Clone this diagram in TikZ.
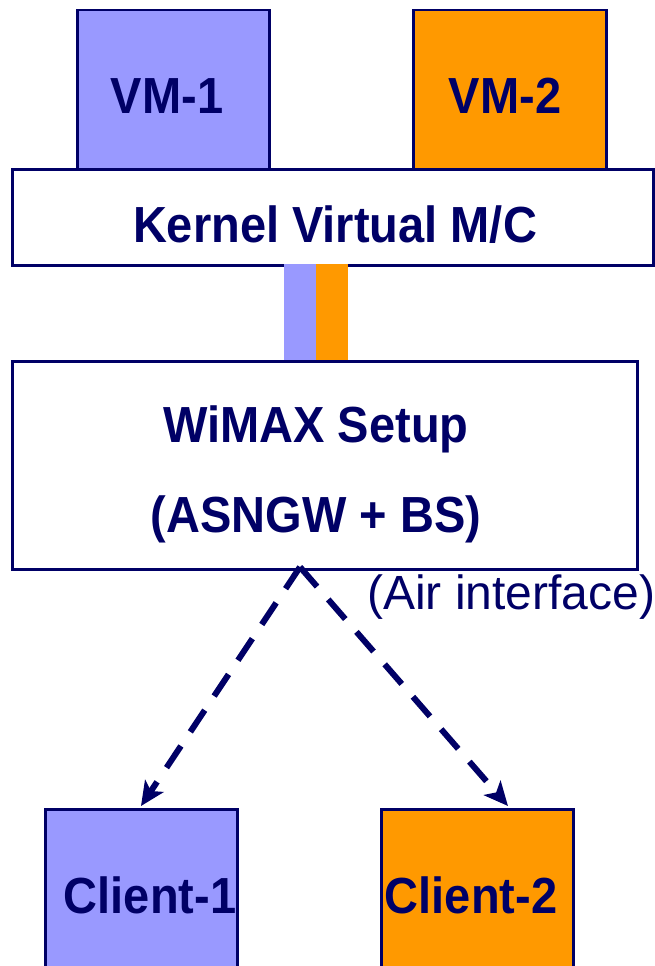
\documentclass[tikz,border=0pt]{standalone}
\usepackage{fontspec}
\setmainfont{Liberation Sans}
\usetikzlibrary{arrows.meta}
\definecolor{navy}{HTML}{000066}
\definecolor{vmblue}{HTML}{9999FF}
\definecolor{vmorange}{HTML}{FF9900}
\tikzset{
  box/.style={draw=navy, line width=2.5pt, rectangle, inner sep=0pt, anchor=north west},
  bar/.style={rectangle, inner sep=0pt, anchor=north west, minimum width=32pt, minimum height=96pt},
  lbl/.style={text=navy, font=\fontsize{47}{56}\selectfont\bfseries, inner sep=0pt, yscale=1.08},
  note/.style={text=navy, font=\fontsize{48}{56}\selectfont, inner sep=0pt},
  radio/.style={draw=navy, line width=6pt, dash pattern=on 26pt off 17pt,
    -{Stealth[length=24pt, width=22pt, inset=6pt]}}
}
\begin{document}
\begin{tikzpicture}[x=1pt, y=-1pt]
  \useasboundingbox (0,0) rectangle (655,966);
  \fill[white] (0,0) rectangle (655,966);

  % virtual machines
  \node[box, fill=vmblue, minimum width=192pt, minimum height=159pt] (vm1) at (76,9) {};
  \node[box, fill=vmorange, minimum width=193pt, minimum height=159pt] (vm2) at (412,9) {};
  \node[lbl] (vm1t) at (167,96) {VM-1};
  \node[lbl] (vm2t) at (505,96) {VM-2};

  % kernel layer
  \node[box, fill=white, minimum width=641pt, minimum height=96pt] (kvm) at (11,168) {};
  \node[lbl] (kvmt) at (335,225) {Kernel Virtual M/C};

  % link between kernel and WiMAX setup
  \node[bar, fill=vmblue] (linkA) at (284,264) {};
  \node[bar, fill=vmorange] (linkB) at (316,264) {};

  % WiMAX setup
  \node[box, fill=white, minimum width=625pt, minimum height=208pt] (wimax) at (11,360) {};
  \node[lbl] (wimaxt1) at (316,429) {WiMAX Setup};
  \node[lbl] (wimaxt2) at (316,519) {(ASNGW + BS)};
  \coordinate (ap) at (300,567);
  \node[note, anchor=west] (air) at (367,597) {(Air interface)};

  % clients
  \node[box, fill=vmblue, minimum width=192pt, minimum height=180pt] (c1) at (44,808) {};
  \node[box, fill=vmorange, minimum width=192pt, minimum height=180pt] (c2) at (380,808) {};
  \node[lbl] (c1t) at (150,895) {Client-1};
  \node[lbl] (c2t) at (471,895) {Client-2};
  \coordinate (c1in) at (141,806);
  \coordinate (c2in) at (508,806);

  % air links
  \draw[radio] (ap) -- (c1in);
  \draw[radio] (ap) -- (c2in);
\end{tikzpicture}
\end{document}
